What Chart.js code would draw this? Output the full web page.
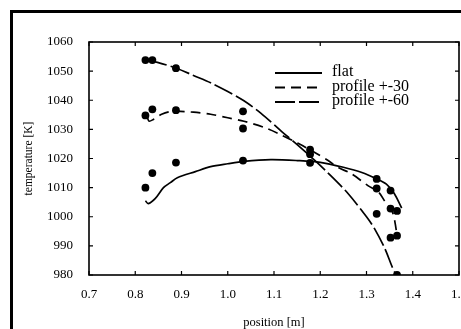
<!DOCTYPE html>
<html>
<head>
<meta charset="utf-8">
<title>temperature vs position</title>
<script src="https://cdn.jsdelivr.net/npm/chart.js@4.4.1/dist/chart.umd.min.js"></script>
<style>
  html, body { margin: 0; padding: 0; background: #fff; overflow: hidden; }
  #frame { position: absolute; left: 10px; top: 10px; width: 520px; height: 400px;
           border-left: 3px solid #000; border-top: 3px solid #000; }
  #wrap { position: absolute; left: 0; top: 0; width: 490px; height: 329px; }
</style>
</head>
<body>
<div id="frame"></div>
<div id="wrap"><canvas id="chart" width="490" height="329"></canvas></div>
<script>
// measured values (dots), same positions for the three cases
const measX    = [0.822, 0.837, 0.888, 1.033, 1.178, 1.322, 1.352, 1.366];
const flatMeas = [1010, 1015, 1018.6, 1019.3, 1018.5, 1013, 1009, 1002];
const p30Meas  = [1034.8, 1036.9, 1036.6, 1030.3, 1021.5, 1009.7, 1002.8, 993.5];
const p60Meas  = [1053.8, 1053.8, 1051, 1036.2, 1023, 1001, 992.8, 980];

// computed curves
const flatX = [0.822, 0.828, 0.843, 0.861, 0.876, 0.891, 0.93, 0.963, 1.0, 1.035, 1.093, 1.15, 1.2, 1.25, 1.29, 1.322, 1.343, 1.36, 1.376];
const flatY = [1005.5, 1004.5, 1006.2, 1010, 1011.7, 1013.4, 1015.5, 1017.2, 1018.2, 1019, 1019.6, 1019.3, 1018.7, 1017, 1015.2, 1013, 1011.2, 1008, 1003];

const p30X = [0.826, 0.83, 0.839, 0.857, 0.88, 0.926, 0.963, 1.0, 1.035, 1.078, 1.109, 1.152, 1.18, 1.217, 1.239, 1.267, 1.303, 1.326, 1.34, 1.355, 1.361, 1.367];
const p30Y = [1034.1, 1032.8, 1033.4, 1035.2, 1036.2, 1035.9, 1035.2, 1034, 1032.8, 1030.7, 1028.6, 1025.2, 1022.8, 1019.3, 1016.9, 1014.8, 1010.7, 1008.5, 1005.2, 1002, 998.6, 992.5];

const p60X = [0.826, 0.848, 0.889, 0.926, 0.963, 1.0, 1.035, 1.072, 1.115, 1.152, 1.187, 1.217, 1.26, 1.3, 1.317, 1.34, 1.355, 1.365];
const p60Y = [1053.8, 1053, 1051, 1048.5, 1046, 1043, 1039.8, 1035.5, 1029.5, 1024.5, 1019.5, 1015, 1008, 1000, 996, 989, 983, 979.7];

const xTicks = [0.7, 0.8, 0.9, 1.0, 1.1, 1.2, 1.3, 1.4, 1.5];
const yTicks = [980, 990, 1000, 1010, 1020, 1030, 1040, 1050, 1060];

const seriesNames = ['flat', 'profile +-30', 'profile +-60'];

function pts(xs, ys) {
  return xs.map((x, i) => ({ x: x, y: ys[i] }));
}

Chart.defaults.font.family = "'Liberation Serif', 'DejaVu Serif', serif";
Chart.defaults.color = '#000';

// plot frame with small ticks pointing inward on all four sides
const frameTicks = {
  id: 'frameTicks',
  afterDatasetsDraw(chart) {
    const { ctx, chartArea: a, scales } = chart;
    ctx.save();
    ctx.strokeStyle = '#000';
    ctx.lineWidth = 1.6;
    ctx.strokeRect(a.left, a.top, a.right - a.left, a.bottom - a.top);
    ctx.lineWidth = 1.2;
    ctx.beginPath();
    scales.x.ticks.forEach(t => {
      const px = scales.x.getPixelForValue(t.value);
      ctx.moveTo(px, a.bottom); ctx.lineTo(px, a.bottom - 4);
      ctx.moveTo(px, a.top); ctx.lineTo(px, a.top + 4);
    });
    scales.y.ticks.forEach(t => {
      const py = scales.y.getPixelForValue(t.value);
      ctx.moveTo(a.left, py); ctx.lineTo(a.left + 4, py);
      ctx.moveTo(a.right, py); ctx.lineTo(a.right - 4, py);
    });
    ctx.stroke();
    ctx.restore();
  }
};

// legend drawn inside the plot, line sample then label
const inlineLegend = {
  id: 'inlineLegend',
  afterDraw(chart) {
    const { ctx, chartArea: a } = chart;
    const x0 = a.left + 186, len = 47, y0 = a.top + 31, gap = 14.5;
    ctx.save();
    ctx.font = "16px 'Liberation Serif', serif";
    ctx.textBaseline = 'middle';
    ctx.fillStyle = '#000';
    chart.data.datasets.filter(d => d.label).forEach((d, i) => {
      const y = y0 + i * gap;
      ctx.strokeStyle = '#000';
      ctx.lineWidth = 1.8;
      ctx.setLineDash(d.borderDash || []);
      ctx.beginPath();
      ctx.moveTo(x0, y); ctx.lineTo(x0 + len, y);
      ctx.stroke();
      ctx.setLineDash([]);
      ctx.fillText(d.label, x0 + len + 10, y - 1);
    });
    ctx.restore();
  }
};

const dotStyle = { showLine: false, pointRadius: 3.9, pointBackgroundColor: '#000', pointBorderWidth: 0 };
const curveStyle = { showLine: true, pointRadius: 0, borderColor: '#000', borderWidth: 1.7, tension: 0.3, fill: false };

new Chart(document.getElementById('chart'), {
  type: 'scatter',
  data: {
    datasets: [
      { ...curveStyle, label: seriesNames[0], data: pts(flatX, flatY), borderDash: [] },
      { ...curveStyle, label: seriesNames[1], data: pts(p30X, p30Y), borderDash: [10, 6] },
      { ...curveStyle, label: seriesNames[2], data: pts(p60X, p60Y), borderDash: [20, 4] },
      { ...dotStyle, data: pts(measX, flatMeas) },
      { ...dotStyle, data: pts(measX, p30Meas) },
      { ...dotStyle, data: pts(measX, p60Meas) }
    ]
  },
  options: {
    responsive: false,
    animation: false,
    events: [],
    layout: { padding: { top: 42, right: 31, bottom: 0, left: 0 } },
    plugins: { legend: { display: false }, tooltip: { enabled: false } },
    scales: {
      x: {
        type: 'linear',
        min: xTicks[0],
        max: xTicks[xTicks.length - 1],
        afterBuildTicks: s => { s.ticks = xTicks.map(v => ({ value: v })); },
        afterFit: s => { s.height = 54; },
        border: { display: false },
        grid: { display: false, drawTicks: false },
        ticks: { padding: 12, font: { size: 13 }, callback: v => v.toFixed(1) },
        title: { display: true, text: 'position [m]', font: { size: 12.5 }, padding: { top: 0, bottom: -1 } }
      },
      y: {
        type: 'linear',
        min: yTicks[0],
        max: yTicks[yTicks.length - 1],
        afterBuildTicks: s => { s.ticks = yTicks.map(v => ({ value: v })); },
        afterFit: s => { s.width = 89; },
        border: { display: false },
        grid: { display: false, drawTicks: false },
        ticks: { padding: 16, font: { size: 13 }, callback: v => String(v) },
        title: { display: true, text: 'temperature [K]', font: { size: 11.5 }, padding: { top: 22, bottom: 0 } }
      }
    }
  },
  plugins: [frameTicks, inlineLegend]
});
</script>
</body>
</html>
